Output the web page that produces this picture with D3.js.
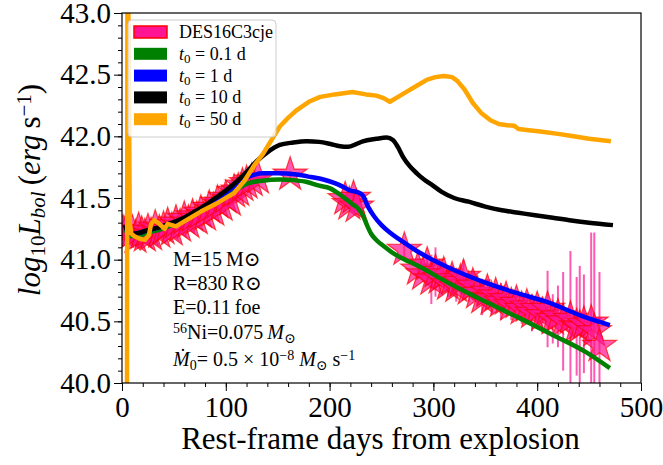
<!DOCTYPE html>
<html>
<head>
<meta charset="utf-8">
<script src="https://cdn.jsdelivr.net/npm/d3@7"></script>
<style>
  body { margin: 0; background: #fff; }
  text { font-family: "Liberation Serif", "DejaVu Serif", serif; fill: #000; }
</style>
</head>
<body>
<svg id="chart" width="663" height="465"></svg>
<script>
// observed bolometric light curve of DES16C3cje (day, log L, error)
var obsDay = [1, 4, 7, 10, 13, 16, 19, 22, 25, 28, 32, 36, 40, 44, 48, 52, 56, 60, 64, 68, 72, 76, 80, 84, 88, 92, 96, 100, 104, 108, 112, 116, 120, 125, 131, 162,
  215, 219, 223, 226, 272,
  285, 290, 294, 298, 302, 306, 310, 314, 318, 322, 326, 329, 334, 338, 342, 347, 352, 356, 360, 365, 370, 375, 380, 385, 390, 395, 400, 405, 410, 415, 420, 425, 432, 438, 441, 445, 452, 455, 460];
var obsLum = [41.22, 41.24, 41.20, 41.22, 41.18, 41.24, 41.21, 41.19, 41.23, 41.20, 41.26, 41.22, 41.25, 41.28, 41.24, 41.30, 41.27, 41.33, 41.30, 41.35, 41.33, 41.38, 41.36, 41.42, 41.40, 41.46, 41.44, 41.50, 41.48, 41.55, 41.56, 41.60, 41.62, 41.64, 41.66, 41.69,
  41.49, 41.45, 41.50, 41.43, 41.08,
  40.92, 40.88, 40.96, 40.84, 40.90, 40.85, 40.88, 40.80, 40.84, 40.78, 40.82, 40.86, 40.76, 40.79, 40.73, 40.69, 40.74, 40.68, 40.71, 40.66, 40.68, 40.63, 40.65, 40.60, 40.62, 40.57, 40.60, 40.55, 40.60, 40.52, 40.54, 40.50, 40.52, 40.46, 40.45, 40.48, 40.49, 40.42, 40.30];
var obsErr = [0.03, 0.03, 0.03, 0.03, 0.03, 0.03, 0.03, 0.03, 0.03, 0.03, 0.03, 0.03, 0.03, 0.03, 0.03, 0.03, 0.03, 0.03, 0.03, 0.03, 0.03, 0.03, 0.03, 0.03, 0.03, 0.03, 0.03, 0.03, 0.03, 0.03, 0.03, 0.03, 0.03, 0.03, 0.03, 0.03,
  0.04, 0.04, 0.04, 0.04, 0.05,
  0.05, 0.06, 0.08, 0.20, 0.20, 0.10, 0.10, 0.10, 0.08, 0.12, 0.10, 0.14, 0.10, 0.12, 0.10, 0.14, 0.10, 0.12, 0.10, 0.15, 0.10, 0.12, 0.10, 0.12, 0.10, 0.15, 0.10, 0.15, 0.31, 0.20, 0.25, 0.40, 0.55, 0.40, 0.50, 0.40, 0.73, 0.80, 0.60];

// model curves
var dayT01 = [3, 6, 10, 18, 25, 35, 45, 57, 70, 80, 90, 98, 106, 114, 122, 135, 152, 165, 178, 190, 200, 208, 216, 222, 228, 232, 236, 240, 245, 252, 260, 268, 285, 317, 350, 382, 415, 447, 470];
var lumT01 = [41.26, 41.20, 41.19, 41.20, 41.22, 41.24, 41.27, 41.31, 41.37, 41.41, 41.46, 41.51, 41.55, 41.59, 41.62, 41.64, 41.65, 41.645, 41.63, 41.60, 41.58, 41.54, 41.49, 41.45, 41.41, 41.36, 41.28, 41.21, 41.16, 41.11, 41.06, 41.02, 40.95, 40.80, 40.66, 40.53, 40.39, 40.25, 40.12];

var dayT1 = [3, 6, 10, 18, 25, 35, 45, 57, 70, 80, 90, 98, 106, 114, 121, 128, 135, 150, 168, 182, 194, 205, 213, 220, 226, 232, 237, 243, 250, 258, 268, 284, 316, 348, 380, 412, 444, 470];
var lumT1 = [41.28, 41.22, 41.21, 41.22, 41.24, 41.26, 41.29, 41.32, 41.38, 41.42, 41.48, 41.53, 41.58, 41.63, 41.67, 41.69, 41.70, 41.70, 41.69, 41.67, 41.65, 41.62, 41.59, 41.56, 41.55, 41.52, 41.43, 41.35, 41.28, 41.22, 41.16, 41.07, 40.93, 40.82, 40.73, 40.65, 40.54, 40.47];

var dayT10 = [3, 6, 10, 18, 25, 35, 45, 57, 70, 80, 90, 100, 110, 120, 130, 140, 152, 165, 178, 190, 200, 210, 218, 225, 232, 245, 255, 261, 266, 271, 277, 284, 291, 298, 308, 320, 334, 350, 366, 382, 398, 415, 431, 450, 473];
var lumT10 = [41.28, 41.22, 41.21, 41.22, 41.24, 41.26, 41.29, 41.33, 41.39, 41.44, 41.50, 41.56, 41.63, 41.71, 41.80, 41.87, 41.93, 41.95, 41.96, 41.955, 41.94, 41.92, 41.915, 41.935, 41.96, 41.98, 41.99, 41.97, 41.91, 41.83, 41.76, 41.70, 41.65, 41.61, 41.55, 41.50, 41.47, 41.43, 41.40, 41.38, 41.36, 41.34, 41.32, 41.30, 41.28];

var dayT50 = [4.6, 5.4, 7.5, 9, 12, 17, 22, 26, 28, 31, 36, 41, 44, 48, 52, 60, 76, 92, 108, 118, 127, 136, 144, 152, 160, 168, 180, 191, 205, 222, 235, 245, 252, 258, 266, 274, 284, 294, 302, 310, 318, 323, 330, 338, 346, 355, 363, 371, 378, 382, 392, 403, 420, 435, 450, 471];
var lumT50 = [38.5, 44.0, 41.30, 41.21, 41.19, 41.17, 41.16, 41.20, 41.29, 41.32, 41.29, 41.25, 41.29, 41.28, 41.27, 41.31, 41.39, 41.46, 41.54, 41.64, 41.76, 41.86, 41.97, 42.08, 42.15, 42.21, 42.28, 42.32, 42.34, 42.36, 42.34, 42.33, 42.31, 42.28, 42.32, 42.36, 42.41, 42.46, 42.48, 42.49, 42.48, 42.45, 42.38, 42.27, 42.19, 42.13, 42.10, 42.09, 42.085, 42.06, 42.05, 42.04, 42.02, 42.00, 41.98, 41.96];

var legendLabels = ["DES16C3cje", "0.1 d", "1 d", "10 d", "50 d"];
var xTicks = [0, 100, 200, 300, 400, 500];
var yTicks = [40.0, 40.5, 41.0, 41.5, 42.0, 42.5, 43.0];

var svg = d3.select('#chart');
var pL = 122, pR = 641, pT = 13, pB = 383;

var x = d3.scaleLinear().domain([0, 500]).range([pL, pR]);
var y = d3.scaleLinear().domain([40, 43]).range([pB, pT]);

svg.append('defs').append('clipPath').attr('id', 'plot')
  .append('rect').attr('x', pL).attr('y', pT).attr('width', pR - pL).attr('height', pB - pT);

var plot = svg.append('g').attr('clip-path', 'url(#plot)');

// error bars and stars
var obs = obsDay.map((d, i) => ({ day: d, lum: obsLum[i], err: obsErr[i] }));
plot.append('g').selectAll('line')
  .data(obs).enter().append('line')
  .attr('x1', d => x(d.day)).attr('x2', d => x(d.day))
  .attr('y1', d => y(d.lum - d.err)).attr('y2', d => y(d.lum + d.err))
  .attr('stroke', '#ff1493').attr('stroke-opacity', 0.7).attr('stroke-width', 2);

var star = d3.symbol().type(d3.symbolStar).size(360);
plot.append('g').selectAll('path')
  .data(obs).enter().append('path')
  .attr('d', star)
  .attr('transform', d => 'translate(' + x(d.day) + ',' + y(d.lum) + ')')
  .attr('fill', '#ff1493').attr('fill-opacity', 0.7)
  .attr('stroke', '#ff0000').attr('stroke-opacity', 0.7).attr('stroke-width', 1.2);

// model lines
var smooth = d3.line().x(d => x(d[0])).y(d => y(d[1])).curve(d3.curveMonotoneX);
var straight = d3.line().x(d => x(d[0])).y(d => y(d[1]));
var models = [
  { days: dayT01, lums: lumT01, color: '#008000' },
  { days: dayT1, lums: lumT1, color: '#0000ff' },
  { days: dayT10, lums: lumT10, color: '#000000' },
  { days: dayT50, lums: lumT50, color: '#ffa500' }
];
models.forEach(m => {
  plot.append('path')
    .datum(m.days.map((d, i) => [d, m.lums[i]]))
    .attr('d', m.color === '#ffa500' ? straight : smooth)
    .attr('fill', 'none').attr('stroke', m.color).attr('stroke-width', 4.5)
    .attr('stroke-linejoin', 'round');
});

// frame
svg.append('rect').attr('x', pL).attr('y', pT).attr('width', pR - pL).attr('height', pB - pT)
  .attr('fill', 'none').attr('stroke', '#000').attr('stroke-width', 1.2);

// axes
svg.append('g').attr('transform', 'translate(0,' + pB + ')')
  .call(d3.axisBottom(x).tickValues(xTicks).tickSize(8).tickPadding(5).tickFormat(d3.format('d')));
svg.append('g').attr('transform', 'translate(0,' + pB + ')')
  .call(d3.axisBottom(x).tickValues(d3.range(0, 501, 20)).tickSize(4).tickFormat(''));
svg.append('g').attr('transform', 'translate(' + pL + ',0)')
  .call(d3.axisLeft(y).tickValues(yTicks).tickSize(8).tickPadding(3).tickFormat(d3.format('.1f')));
svg.append('g').attr('transform', 'translate(' + pL + ',0)')
  .call(d3.axisLeft(y).tickValues(d3.range(40, 43.001, 0.1)).tickSize(4).tickFormat(''));
svg.selectAll('.domain').remove();
svg.selectAll('.tick line').attr('stroke', '#000').attr('stroke-width', 1);
svg.selectAll('.tick text').style('font-family', '"Liberation Serif", serif').style('font-size', '29px').attr('fill', '#000');

// axis labels
svg.append('text').attr('x', (pL + pR) / 2 - 1).attr('y', 449).attr('text-anchor', 'middle')
  .style('font-size', '31px').text('Rest-frame days from explosion');

var yl = svg.append('text').attr('transform', 'translate(40,' + ((pT + pB) / 2 - 8) + ') rotate(-90)')
  .attr('text-anchor', 'middle').style('font-size', '31px');
yl.append('tspan').style('font-style', 'italic').text('log');
yl.append('tspan').attr('baseline-shift', '-25%').style('font-size', '21px').text('10');
yl.append('tspan').style('font-style', 'italic').text('L');
yl.append('tspan').attr('baseline-shift', '-25%').style('font-size', '21px').style('font-style', 'italic').text('bol');
yl.append('tspan').text('\u2009(');
yl.append('tspan').style('font-style', 'italic').text('erg');
yl.append('tspan').text('\u2009s');
yl.append('tspan').attr('baseline-shift', '45%').style('font-size', '21px').text('\u22121');
yl.append('tspan').text(')');

// legend
var lg = svg.append('g');
lg.append('rect').attr('x', 128).attr('y', 20).attr('width', 148).attr('height', 117).attr('rx', 4)
  .attr('fill', '#fff').attr('fill-opacity', 0.8).attr('stroke', '#cccccc');
var legendColors = ['#ff1493', '#008000', '#0000ff', '#000000', '#ffa500'];
legendLabels.forEach((lab, i) => {
  var cy = 32 + i * 21.8;
  lg.append('rect').attr('x', 134).attr('y', cy - 6).attr('width', 33).attr('height', 12)
    .attr('fill', legendColors[i])
    .attr('stroke', i === 0 ? '#ff0000' : 'none').attr('stroke-width', 1.5);
  var t = lg.append('text').attr('x', 179).attr('y', cy + 6).style('font-size', '18px');
  if (i === 0) {
    t.text(lab);
  } else {
    t.append('tspan').style('font-style', 'italic').text('t');
    t.append('tspan').attr('baseline-shift', '-25%').style('font-size', '13px').text('0');
    t.append('tspan').text(' = ' + lab);
  }
});

// annotation
var ann = svg.append('g').style('font-size', '20px');
var ax = 173;
ann.append('text').attr('x', ax).attr('y', 266).text('M=15\u2009M\u2299');
ann.append('text').attr('x', ax).attr('y', 290).text('R=830\u2009R\u2299');
ann.append('text').attr('x', ax).attr('y', 314).text('E=0.11\u2009foe');
var ni = ann.append('text').attr('x', ax).attr('y', 339);
ni.append('tspan').attr('baseline-shift', '40%').style('font-size', '14px').text('56');
ni.append('tspan').text('Ni=0.075\u2009');
ni.append('tspan').style('font-style', 'italic').text('M');
ni.append('tspan').attr('baseline-shift', '-25%').style('font-size', '14px').text('\u2299');
var md = ann.append('text').attr('x', ax).attr('y', 366);
md.append('tspan').style('font-style', 'italic').text('M\u0307');
md.append('tspan').attr('baseline-shift', '-25%').style('font-size', '14px').text('0');
md.append('tspan').text('= 0.5 \u00d7 10');
md.append('tspan').attr('baseline-shift', '40%').style('font-size', '14px').text('\u22128');
md.append('tspan').text(' ');
md.append('tspan').style('font-style', 'italic').text('M');
md.append('tspan').attr('baseline-shift', '-25%').style('font-size', '14px').text('\u2299');
md.append('tspan').text(' s');
md.append('tspan').attr('baseline-shift', '40%').style('font-size', '14px').text('\u22121');
</script>
</body>
</html>
